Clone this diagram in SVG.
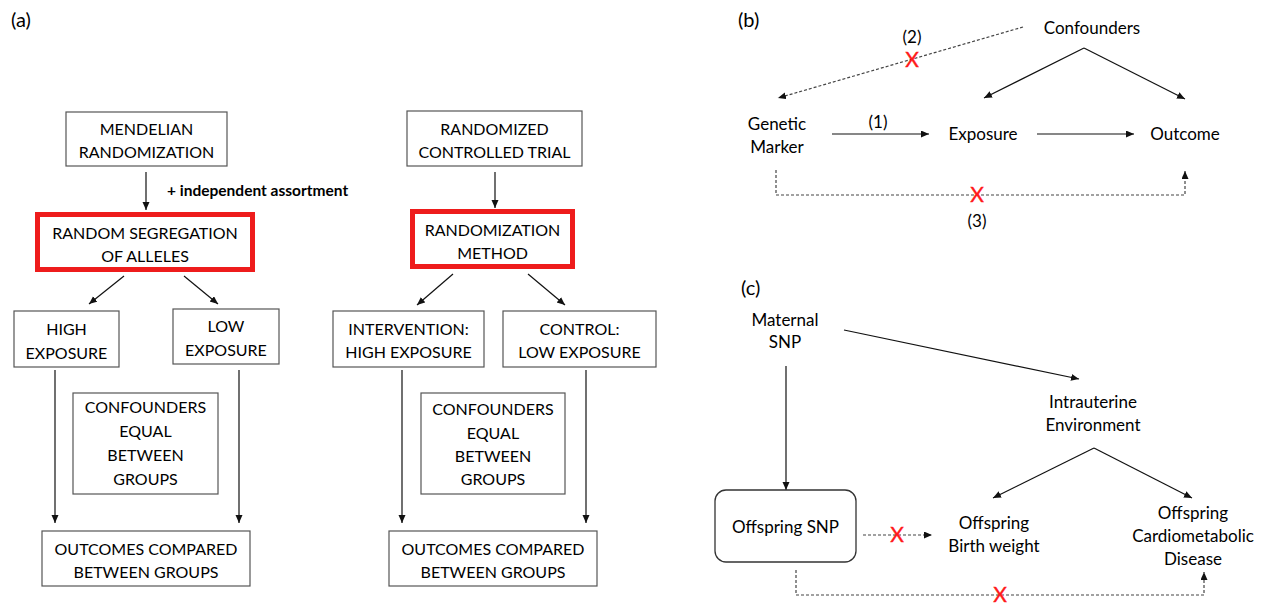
<svg xmlns="http://www.w3.org/2000/svg" width="1266" height="605" viewBox="0 0 1266 605">
<defs>
<marker id="ah" markerUnits="userSpaceOnUse" markerWidth="9" markerHeight="8" refX="8" refY="3.5" orient="auto">
<path d="M0,0 L8,3.5 L0,7 z" fill="#111"/>
</marker>
</defs>
<style>
text{font-family:Lato,"Liberation Sans",sans-serif;fill:#000}
.bx{font-size:16px;text-anchor:middle}
.lb{font-size:17px;text-anchor:middle}
.pl{font-size:20px}
.bd{font-size:15.5px;font-weight:bold}
.x{font-size:21px;fill:#ff1a1a;stroke:#ff1a1a;stroke-width:0.4;text-anchor:middle}
.box{fill:#fff;stroke:#555;stroke-width:1.2}
.red{fill:#fff;stroke:#ee1c1c;stroke-width:5}
.ln{fill:none;stroke:#111;stroke-width:1.2;marker-end:url(#ah)}
.ds{fill:none;stroke:#444;stroke-width:1.2;stroke-dasharray:3 2;marker-end:url(#ah)}
</style>
<rect width="1266" height="605" fill="#fff"/>

<g id="connectors">
<line class="ln" x1="146" y1="172" x2="146" y2="210"/>
<line class="ln" x1="124" y1="276" x2="89" y2="304"/>
<line class="ln" x1="184" y1="276" x2="218" y2="304"/>
<line class="ln" x1="55" y1="370" x2="55" y2="523"/>
<line class="ln" x1="239" y1="370" x2="239" y2="523"/>
<line class="ln" x1="495" y1="172" x2="495" y2="208"/>
<line class="ln" x1="453" y1="274" x2="417" y2="305"/>
<line class="ln" x1="528" y1="274" x2="565" y2="305"/>
<line class="ln" x1="402" y1="370" x2="402" y2="523"/>
<line class="ln" x1="586" y1="370" x2="586" y2="523"/>

<line class="ds" x1="1023" y1="27" x2="778" y2="98"/>
<line class="ln" x1="1084" y1="48" x2="984" y2="98"/>
<line class="ln" x1="1084" y1="48" x2="1185" y2="99"/>
<line class="ln" x1="832" y1="134" x2="929" y2="134"/>
<line class="ln" x1="1037" y1="134" x2="1134" y2="134"/>
<polyline class="ds" points="776,170 776,195 1185,195 1185,171"/>

<line class="ln" x1="786" y1="366" x2="786" y2="490"/>
<line class="ln" x1="844" y1="330" x2="1079" y2="379"/>
<line class="ln" x1="1094" y1="448" x2="993" y2="498"/>
<line class="ln" x1="1094" y1="448" x2="1192" y2="498"/>
<line class="ds" x1="863" y1="535" x2="932" y2="535"/>
<polyline class="ds" points="796,570 796,595 1204,595 1204,572"/>
</g>

<g id="labels">
<text class="pl" x="11" y="27">(a)</text>
<text class="pl" x="738" y="27">(b)</text>
<text class="pl" x="741" y="295">(c)</text>
<text class="bd" x="167" y="196">+ independent assortment</text>
<text class="lb" x="912" y="43">(2)</text>
<text class="x" x="912" y="67">X</text>
<text class="lb" x="878" y="128">(1)</text>
<text class="x" x="977" y="202">X</text>
<text class="lb" x="977" y="227">(3)</text>
<text class="x" x="897" y="542">X</text>
<text class="x" x="1000" y="602">X</text>
</g>

<g id="mr">
<rect class="box" x="66" y="112" width="161" height="54"/>
<text class="bx" x="146.5" y="135">MENDELIAN</text>
<text class="bx" x="146.5" y="158">RANDOMIZATION</text>
</g>
<g id="rsa">
<rect class="red" x="37.5" y="214.5" width="215" height="55"/>
<text class="bx" x="145" y="239">RANDOM SEGREGATION</text>
<text class="bx" x="145" y="262">OF ALLELES</text>
</g>
<g id="high">
<rect class="box" x="14" y="311" width="105" height="56"/>
<text class="bx" x="66.5" y="335">HIGH</text>
<text class="bx" x="66.5" y="359">EXPOSURE</text>
</g>
<g id="low">
<rect class="box" x="173" y="309" width="106" height="55"/>
<text class="bx" x="226" y="332">LOW</text>
<text class="bx" x="226" y="356">EXPOSURE</text>
</g>
<g id="conf-a1">
<rect class="box" x="73" y="393" width="145" height="101"/>
<text class="bx" x="145.5" y="413">CONFOUNDERS</text>
<text class="bx" x="145.5" y="437">EQUAL</text>
<text class="bx" x="145.5" y="461">BETWEEN</text>
<text class="bx" x="145.5" y="485">GROUPS</text>
</g>
<g id="out-a1">
<rect class="box" x="42" y="531" width="208" height="55"/>
<text class="bx" x="146" y="555">OUTCOMES COMPARED</text>
<text class="bx" x="146" y="578">BETWEEN GROUPS</text>
</g>

<g id="rct">
<rect class="box" x="407" y="111" width="175" height="55"/>
<text class="bx" x="494.5" y="135">RANDOMIZED</text>
<text class="bx" x="494.5" y="158">CONTROLLED TRIAL</text>
</g>
<g id="rm">
<rect class="red" x="412.5" y="211.5" width="160" height="55"/>
<text class="bx" x="492.5" y="236">RANDOMIZATION</text>
<text class="bx" x="492.5" y="259">METHOD</text>
</g>
<g id="intervention">
<rect class="box" x="333" y="311" width="151" height="56"/>
<text class="bx" x="408.5" y="335">INTERVENTION:</text>
<text class="bx" x="408.5" y="358">HIGH EXPOSURE</text>
</g>
<g id="control">
<rect class="box" x="503" y="311" width="153" height="56"/>
<text class="bx" x="579.5" y="335">CONTROL:</text>
<text class="bx" x="579.5" y="358">LOW EXPOSURE</text>
</g>
<g id="conf-a2">
<rect class="box" x="421" y="393" width="144" height="101"/>
<text class="bx" x="493" y="415">CONFOUNDERS</text>
<text class="bx" x="493" y="439">EQUAL</text>
<text class="bx" x="493" y="462">BETWEEN</text>
<text class="bx" x="493" y="485">GROUPS</text>
</g>
<g id="out-a2">
<rect class="box" x="389" y="531" width="208" height="55"/>
<text class="bx" x="493" y="555">OUTCOMES COMPARED</text>
<text class="bx" x="493" y="578">BETWEEN GROUPS</text>
</g>

<g id="confounders-b">
<text class="lb" x="1092" y="34">Confounders</text>
</g>
<g id="genetic">
<text class="lb" x="777" y="130">Genetic</text>
<text class="lb" x="777" y="153">Marker</text>
</g>
<g id="exposure">
<text class="lb" x="983" y="140">Exposure</text>
</g>
<g id="outcome">
<text class="lb" x="1185" y="140">Outcome</text>
</g>

<g id="maternal">
<text class="lb" x="785" y="326">Maternal</text>
<text class="lb" x="785" y="348">SNP</text>
</g>
<g id="offspring-snp">
<rect x="715" y="490" width="141" height="72" rx="11" fill="#fff" stroke="#333" stroke-width="1.3"/>
<text class="lb" x="785.5" y="533">Offspring SNP</text>
</g>
<g id="intrauterine">
<text class="lb" x="1093" y="408">Intrauterine</text>
<text class="lb" x="1093" y="431">Environment</text>
</g>
<g id="birthweight">
<text class="lb" x="994" y="529">Offspring</text>
<text class="lb" x="994" y="552">Birth weight</text>
</g>
<g id="cardio">
<text class="lb" x="1193" y="519">Offspring</text>
<text class="lb" x="1193" y="542">Cardiometabolic</text>
<text class="lb" x="1193" y="565">Disease</text>
</g>
</svg>
